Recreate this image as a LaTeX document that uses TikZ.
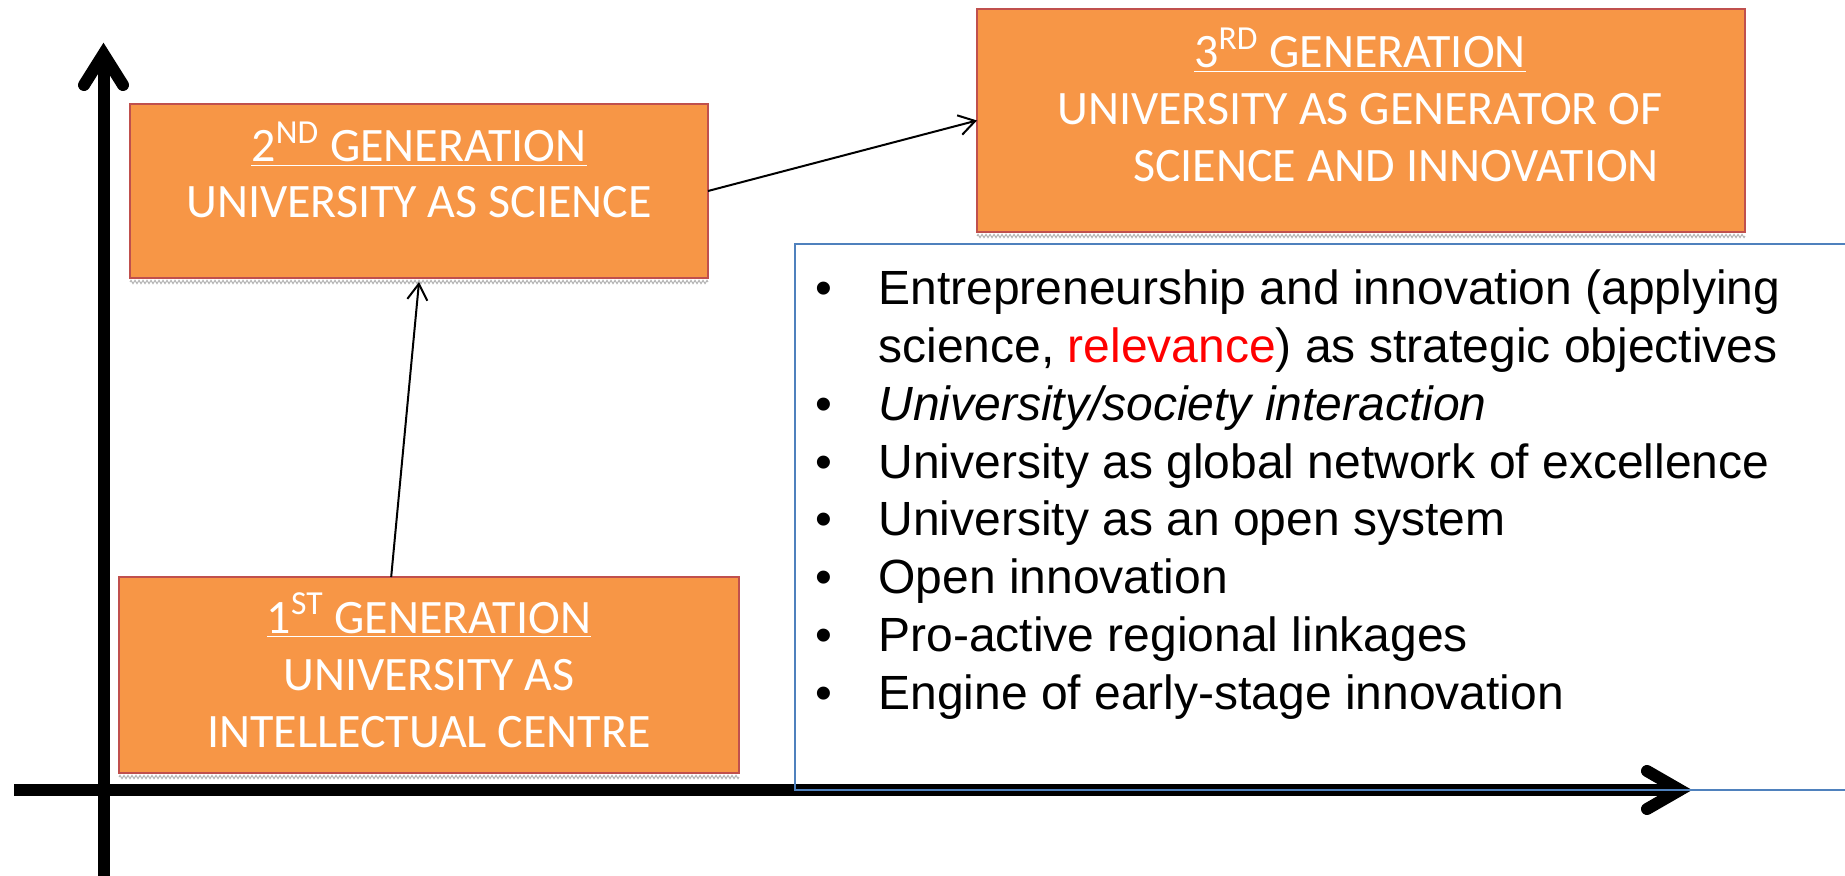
\documentclass[tikz,border=0pt]{standalone}
\usepackage{fontspec}
\newfontfamily\calibri{Carlito}
\newfontfamily\arialf{Liberation Sans}
\usetikzlibrary{arrows.meta,calc,decorations.pathmorphing}
\definecolor{boxorange}{HTML}{F79646}
\definecolor{boxred}{HTML}{C0504D}
\definecolor{listblue}{HTML}{4F81BD}
\definecolor{relred}{HTML}{FF0000}
\begin{document}
\begin{tikzpicture}[x=0.5pt,y=-0.5pt,
  genbox/.style={draw=boxred, line width=0.9pt, fill=boxorange, inner sep=0pt, outer sep=0pt},
  gentext/.style={text=white, font=\calibri\fontsize{24}{28}\selectfont, anchor=base, inner sep=0pt},
  shadowline/.style={draw=gray!60, line width=0.5pt, decorate, decoration={zigzag, amplitude=0.8pt, segment length=2pt}},
  axisline/.style={line width=6pt},
  axishead/.style={line width=6pt, line cap=round, line join=miter},
  conn/.style={line width=1pt, -{Straight Barb[length=8pt,width=10pt]}},
]
\useasboundingbox (0,0) rectangle (1845,876);

% axes
\coordinate (ybot) at (103.5,890);
\coordinate (ytip) at (103.5,54);
\coordinate (ywl) at (84,85);
\coordinate (ywr) at (123,85);
\coordinate (xleft) at (14,790);
\coordinate (xtip) at (1680,790);
\coordinate (xwu) at (1647,771);
\coordinate (xwd) at (1647,809);
\draw[axisline] (ybot) -- (ytip);
\draw[axishead] (ywl) -- (ytip) -- (ywr);
\draw[axisline] (xleft) -- (xtip);
\draw[axishead] (xwu) -- (xtip) -- (xwd);

% generation boxes
\node[genbox, minimum width=310pt, minimum height=98pt] (b1) at (429,675) {};
\node[genbox, minimum width=289pt, minimum height=87pt] (b2) at (419,191) {};
\node[genbox, minimum width=384pt, minimum height=111.5pt] (b3) at (1361,120.5) {};

\draw[shadowline] ([yshift=-2pt]b1.south west) -- ([yshift=-2pt]b1.south east);
\draw[shadowline] ([yshift=-2pt]b2.south west) -- ([yshift=-2pt]b2.south east);
\draw[shadowline] ([yshift=-2pt]b3.south west) -- ([yshift=-2pt]b3.south east);

\node[gentext] (b1l1) at (429,633) {\underline{1\textsuperscript{ST} GENERATION}};
\node[gentext] (b1l2) at (429,690) {UNIVERSITY AS};
\node[gentext] (b1l3) at (429,747) {INTELLECTUAL CENTRE};

\node[gentext] (b2l1) at (419,162) {\underline{2\textsuperscript{ND} GENERATION}};
\node[gentext] (b2l2) at (419,218) {UNIVERSITY AS SCIENCE};

\node[gentext] (b3l1) at (1360,68) {\underline{3\textsuperscript{RD} GENERATION}};
\node[gentext] (b3l2) at (1360,125) {UNIVERSITY AS GENERATOR OF};
\node[gentext] (b3l3) at (1396,182) {SCIENCE AND INNOVATION};

% connectors
\draw[conn] ($(b1.north west)!0.439!(b1.north east)$) -- ([yshift=-2pt]b2.south);
\draw[conn] (b2.east) -- (b3.west);

% list box
\draw[listblue, line width=0.8pt] (795,244) rectangle (1870,790);
\node[anchor=base west, inner sep=0pt, font=\arialf\fontsize{24}{28.86}\selectfont] (list) at (815,305) {%
\begin{tabular}[t]{@{}p{31.5pt}@{}l@{}}
\textbullet & Entrepreneurship and innovation (applying\\
 & science, \textcolor{relred}{relevance}) as strategic objectives\\
\textbullet & \textit{University/society interaction}\\
\textbullet & University as global network of excellence\\
\textbullet & University as an open system\\
\textbullet & Open innovation\\
\textbullet & Pro-active regional linkages\\
\textbullet & Engine of early-stage innovation
\end{tabular}};
\end{tikzpicture}
\end{document}
